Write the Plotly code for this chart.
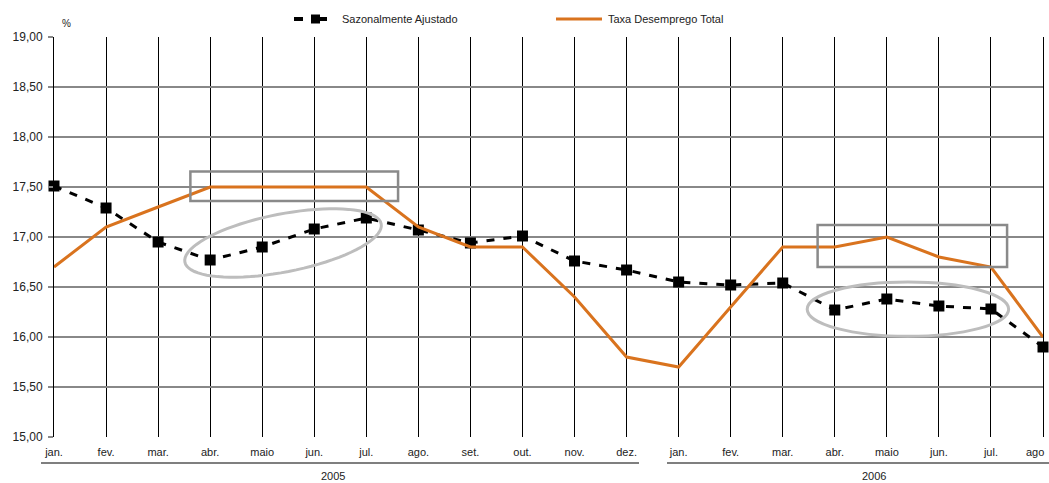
import math
import plotly.graph_objects as go

# Monthly series, Jan 2005 - Aug 2006
months = ["jan.", "fev.", "mar.", "abr.", "maio", "jun.", "jul.", "ago.", "set.", "out.", "nov.", "dez.",
          "jan.", "fev.", "mar.", "abr.", "maio", "jun.", "jul.", "ago"]
sazonal = [17.51, 17.29, 16.95, 16.77, 16.90, 17.08, 17.19, 17.07, 16.94, 17.01, 16.76, 16.67,
           16.55, 16.52, 16.54, 16.27, 16.38, 16.31, 16.28, 15.90]
taxa = [16.70, 17.10, 17.30, 17.50, 17.50, 17.50, 17.50, 17.10, 16.90, 16.90, 16.40, 15.80,
        15.70, 16.30, 16.90, 16.90, 17.00, 16.80, 16.70, 16.00]
y_ticks = [15.0, 15.5, 16.0, 16.5, 17.0, 17.5, 18.0, 18.5, 19.0]
y_ticktext = ["15,00", "15,50", "16,00", "16,50", "17,00", "17,50", "18,00", "18,50", "19,00"]
years = ["2005", "2006"]
series_names = ["Sazonalmente Ajustado", "Taxa Desemprego Total"]

W, H = 1049, 483
ML, MR, MT, MB = 54, 6, 37, 46
PLOT_W, PLOT_H = W - ML - MR, H - MT - MB
x_idx = list(range(len(months)))
X_RANGE = [0, len(months) - 1]
Y_RANGE = [15.0, 19.0]
px_per_x = PLOT_W / (X_RANGE[1] - X_RANGE[0])
px_per_y = PLOT_H / (Y_RANGE[1] - Y_RANGE[0])

ORANGE = "#D9731E"
FONT = "Liberation Sans, Arial, sans-serif"
TEXT = "#222222"


def px_x(px):
    """Page pixel column -> paper x."""
    return (px - ML) / PLOT_W


def px_y(py):
    """Page pixel row -> paper y."""
    return (MT + PLOT_H - py) / PLOT_H


fig = go.Figure()
fig.add_trace(go.Scatter(
    x=x_idx, y=sazonal, name=series_names[0], mode="lines+markers",
    line=dict(color="black", width=3, dash="8px,9px"),
    marker=dict(symbol="square", size=11, color="black"),
    cliponaxis=False,
))
fig.add_trace(go.Scatter(
    x=x_idx, y=taxa, name=series_names[1], mode="lines",
    line=dict(color=ORANGE, width=3),
    cliponaxis=False,
))


def ellipse_path(cx, cy, a_px, b_px, angle_deg, n=80):
    th = math.radians(angle_deg)
    pts = []
    for i in range(n + 1):
        t = 2 * math.pi * i / n
        dx = a_px * math.cos(t) * math.cos(th) - b_px * math.sin(t) * math.sin(th)
        dy = a_px * math.cos(t) * math.sin(th) + b_px * math.sin(t) * math.cos(th)
        pts.append((cx + dx / px_per_x, cy + dy / px_per_y))
    return "M " + " L ".join(f"{x:.4f},{y:.4f}" for x, y in pts) + " Z"


LEG_Y = 19
shapes = [
    # highlight boxes around the total rate
    dict(type="rect", xref="x", yref="y", x0=2.62, x1=6.61, y0=17.36, y1=17.655,
         line=dict(color="#8A8A8A", width=2.5)),
    dict(type="rect", xref="x", yref="y", x0=14.67, x1=18.31, y0=16.70, y1=17.12,
         line=dict(color="#8A8A8A", width=2.5)),
    # ellipses around the adjusted series
    dict(type="path", xref="x", yref="y", path=ellipse_path(4.40, 16.94, 100, 29, 11),
         line=dict(color="#BDBDBD", width=3)),
    dict(type="circle", xref="x", yref="y", x0=14.47, x1=18.34, y0=16.007, y1=16.549,
         line=dict(color="#BDBDBD", width=3)),
    # year brackets under the month labels
    dict(type="line", xref="paper", yref="paper", x0=px_x(41), x1=px_x(639),
         y0=px_y(463), y1=px_y(463), line=dict(color="#555555", width=1.5)),
    dict(type="line", xref="paper", yref="paper", x0=px_x(667), x1=px_x(1052),
         y0=px_y(463), y1=px_y(463), line=dict(color="#555555", width=1.5)),
    # legend keys
    dict(type="line", xref="paper", yref="paper", x0=px_x(294), x1=px_x(303),
         y0=px_y(LEG_Y), y1=px_y(LEG_Y), line=dict(color="black", width=4)),
    dict(type="line", xref="paper", yref="paper", x0=px_x(318), x1=px_x(327),
         y0=px_y(LEG_Y), y1=px_y(LEG_Y), line=dict(color="black", width=4)),
    dict(type="rect", xref="paper", yref="paper", x0=px_x(311), x1=px_x(320),
         y0=px_y(LEG_Y + 4.5), y1=px_y(LEG_Y - 4.5), fillcolor="black", line=dict(width=0)),
    dict(type="line", xref="paper", yref="paper", x0=px_x(556), x1=px_x(602),
         y0=px_y(LEG_Y), y1=px_y(LEG_Y), line=dict(color=ORANGE, width=3)),
]

# the last month label sits at the right edge, so it is drawn
# right-aligned to the figure edge instead of centred on its gridline
tick_labels = months[:-1] + [""]

annotations = [
    dict(text="%", xref="paper", yref="paper", x=px_x(66), y=px_y(23), showarrow=False,
         font=dict(size=10, color=TEXT), xanchor="center", yanchor="middle"),
    dict(text=years[0], xref="paper", yref="paper", x=px_x(333), y=px_y(476), showarrow=False,
         font=dict(size=11, color=TEXT), xanchor="center", yanchor="middle"),
    dict(text=years[1], xref="paper", yref="paper", x=px_x(874), y=px_y(476), showarrow=False,
         font=dict(size=11, color=TEXT), xanchor="center", yanchor="middle"),
    dict(text=series_names[0], xref="paper", yref="paper", x=px_x(340), y=px_y(LEG_Y),
         showarrow=False, font=dict(size=11, color=TEXT), xanchor="left", yanchor="middle"),
    dict(text=series_names[1], xref="paper", yref="paper", x=px_x(606), y=px_y(LEG_Y),
         showarrow=False, font=dict(size=11, color=TEXT), xanchor="left", yanchor="middle"),
    dict(text=months[-1], xref="paper", yref="paper", x=px_x(1046), y=px_y(452),
         showarrow=False, font=dict(size=11, color=TEXT), xanchor="right", yanchor="middle"),
]

fig.update_layout(
    width=W, height=H,
    margin=dict(l=ML, r=MR, t=MT, b=MB, autoexpand=False),
    paper_bgcolor="white", plot_bgcolor="white",
    font=dict(family=FONT, size=11, color=TEXT),
    shapes=shapes, annotations=annotations,
    showlegend=False,
)
fig.update_xaxes(
    range=X_RANGE, tickmode="array", tickvals=x_idx, ticktext=tick_labels,
    showgrid=True, gridcolor="black", gridwidth=1, zeroline=False,
    showline=False, ticks="", tickfont=dict(size=11, color=TEXT),
    ticklabelstandoff=7, automargin=False,
)
fig.update_yaxes(
    range=Y_RANGE, tickmode="array", tickvals=y_ticks, ticktext=y_ticktext,
    showgrid=True, gridcolor="#888888", gridwidth=2, zeroline=False,
    showline=True, linecolor="black", linewidth=1, mirror=True,
    ticks="outside", ticklen=5, tickcolor="#888888", tickwidth=1.5,
    tickfont=dict(size=12, color=TEXT), ticklabelstandoff=3, automargin=False,
)

fig.write_html("out.html")
